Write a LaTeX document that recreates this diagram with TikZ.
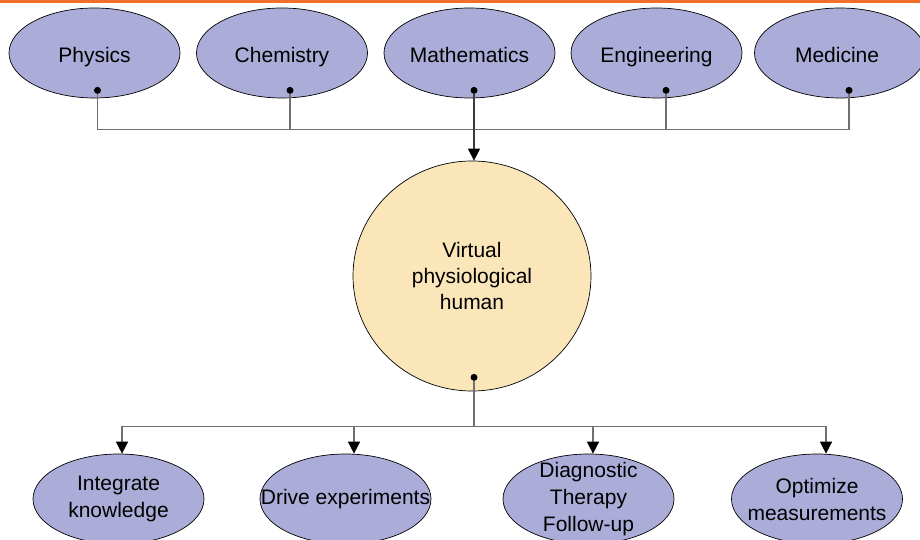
\documentclass[tikz,border=0pt]{standalone}
\usepackage{fontspec}
\setmainfont{Liberation Sans}
\usepackage{xcolor}
\definecolor{VPHlav}{HTML}{ABADD8}
\definecolor{VPHsand}{HTML}{FAE6B9}
\definecolor{VPHwire}{HTML}{707070}
\definecolor{VPHdark}{HTML}{3A3A3A}
\definecolor{VPHorange}{HTML}{F26C2C}
\usetikzlibrary{arrows.meta, shapes.geometric, positioning, calc}

\begin{document}
\begin{tikzpicture}[x=1pt, y=1pt]
% ============================================================
%  Disciplines feeding the virtual physiological human
% ============================================================

\tikzset{
  field/.style={ellipse, draw=black, line width=0.7pt, fill=VPHlav,
    minimum width=171pt, minimum height=90pt,
    inner xsep=-25pt, inner ysep=-10pt,
    font=\fontsize{21}{27}\selectfont, align=center},
  discipline/.style={field, text height=22pt, text depth=2pt},
  core/.style={field, fill=VPHsand, minimum width=238pt, minimum height=230pt,
    font=\fontsize{21}{26}\selectfont},
  pin/.style={circle, fill=black, inner sep=0pt, minimum size=7pt},
  wire/.style={VPHwire, line width=1.5pt},
  feed/.style={wire, -{Triangle[length=12pt, width=12pt, color=black]}},
}

  \useasboundingbox (0,0) rectangle (920,540);
  \fill[VPHorange] (0,537) rectangle (920,540);

  % ── Top row: disciplines ──────────────────────────────────
  \foreach \nd/\cx/\dx/\lbl in {
    phys/94.5/3/Physics,
    chem/282/8/Chemistry,
    math/469.5/4.5/Mathematics,
    eng/656.5/9.5/Engineering,
    med/840/9/Medicine
  }{
    \node[discipline] (\nd) at (\cx,487) {\lbl};
    \node[pin] (\nd-pin) at ($(\nd.south)+(\dx,8)$) {};
  }

  % ── Centre: the virtual human ─────────────────────────────
  \node[core] (vph) at (472,264) {Virtual\\physiological\\human};
  \node[pin] (vph-pin) at ($(vph.south)+(2,14)$) {};

  % ── Bottom row: what it is used for ───────────────────────
  \node[field] (int)  at (118.5,41) {Integrate\\knowledge};
  \node[field] (drv)  at (345.5,41) {Drive experiments};
  \node[field] (diag) at (588.5,41) {Diagnostic\\Therapy\\Follow-up};
  \node[field] (opt)  at (817,41)   {Optimize\\measurements};

  \coordinate (int-in)  at ($(int.north)+(3.5,0)$);
  \coordinate (drv-in)  at ($(drv.north)+(8.5,0)$);
  \coordinate (diag-in) at ($(diag.north)+(4.5,0)$);
  \coordinate (opt-in)  at ($(opt.north)+(9,0)$);

  % ── Collecting bus ────────────────────────────────────────
  \coordinate (topbus) at ($(math-pin)+(0,-39)$);
  \foreach \nd in {phys,chem,eng,med}{
    \draw[wire] (\nd-pin) |- (topbus);
  }
  \draw[feed, draw=VPHdark, line width=1.2pt] (math-pin) -- (math-pin |- vph.north);

  % ── Distributing bus ──────────────────────────────────────
  \coordinate (botbus) at ($(vph-pin)+(0,-49)$);
  \draw[wire] (vph-pin) -- (botbus);
  \foreach \nd in {int,drv,diag,opt}{
    \draw[feed] (botbus) -| (\nd-in);
  }

\end{tikzpicture}
\end{document}
